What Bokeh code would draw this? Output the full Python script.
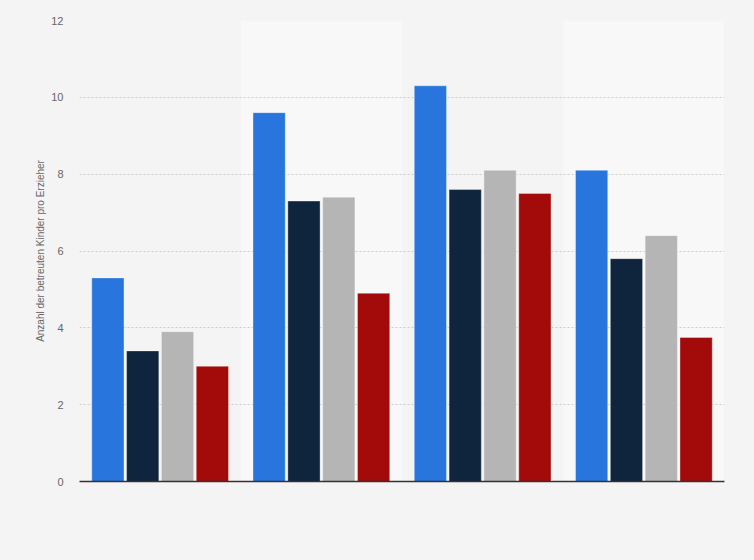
from bokeh.plotting import figure
from bokeh.models import ColumnDataSource, BoxAnnotation, FixedTicker, Range1d
from bokeh.transform import dodge
from bokeh.embed import file_html
from bokeh.resources import INLINE

# Data
groups = ["Gruppe 1", "Gruppe 2", "Gruppe 3", "Gruppe 4"]
serie1 = [5.3, 9.6, 10.3, 8.1]
serie2 = [3.4, 7.3, 7.6, 5.8]
serie3 = [3.9, 7.4, 8.1, 6.4]
serie4 = [3.0, 4.9, 7.5, 3.75]
colors = ["#2876dd", "#0f253d", "#b5b5b5", "#a30a0a"]
y_ticks = [0, 2, 4, 6, 8, 10, 12]
y_title = "Anzahl der betreuten Kinder pro Erzieher"

xpos = [i + 0.5 for i in range(len(groups))]
src = ColumnDataSource(dict(x=xpos, s1=serie1, s2=serie2, s3=serie3, s4=serie4))

p = figure(width=754, height=560, output_backend="svg", toolbar_location=None,
           x_range=Range1d(0, len(groups)), y_range=Range1d(0, 12),
           min_border_left=79, min_border_right=30, min_border_top=20, min_border_bottom=79)
p.background_fill_color = "#f4f4f4"
p.border_fill_color = "#f4f4f4"
p.outline_line_color = None

for i in range(len(groups)):
    if i % 2 == 1:
        p.add_layout(BoxAnnotation(left=i, right=i + 1, fill_color="#f8f8f8",
                                   fill_alpha=1, line_color=None, level="image"))

offsets = [-0.324, -0.108, 0.108, 0.324]
for k, col in enumerate(["s1", "s2", "s3", "s4"]):
    p.vbar(x=dodge("x", offsets[k], range=p.x_range), top=col, bottom=0, width=0.2,
           source=src, fill_color=colors[k], line_color="white", line_alpha=0.35,
           line_width=1)

p.yaxis.ticker = FixedTicker(ticks=y_ticks)
p.yaxis.axis_line_color = None
p.yaxis.major_tick_line_color = None
p.yaxis.minor_tick_line_color = None
p.yaxis.major_label_text_color = "#666666"
p.yaxis.major_label_text_font = "Arial"
p.yaxis.major_label_text_font_size = "11px"
p.yaxis.major_label_standoff = 10
p.yaxis.axis_label = y_title
p.yaxis.axis_label_text_font = "Arial"
p.yaxis.axis_label_text_font_size = "10px"
p.yaxis.axis_label_text_font_style = "normal"
p.yaxis.axis_label_text_color = "#666666"
p.yaxis.axis_label_standoff = 2

p.xaxis.major_label_text_font_size = "0px"
p.xaxis.major_tick_line_color = None
p.xaxis.minor_tick_line_color = None
p.xaxis.axis_line_color = "#333333"
p.xaxis.axis_line_width = 1.5
p.xaxis.ticker = FixedTicker(ticks=[])

p.xgrid.grid_line_color = None
p.ygrid.grid_line_color = "#cccccc"
p.ygrid.grid_line_dash = "2 2"
p.ygrid.grid_line_width = 1
p.ygrid.level = "underlay"

html = file_html(p, INLINE)
html = html.replace("<head>", "<head><style>html,body{background:#f4f4f4;margin:0;padding:0;}</style>", 1)
open("out.html", "w").write(html)
